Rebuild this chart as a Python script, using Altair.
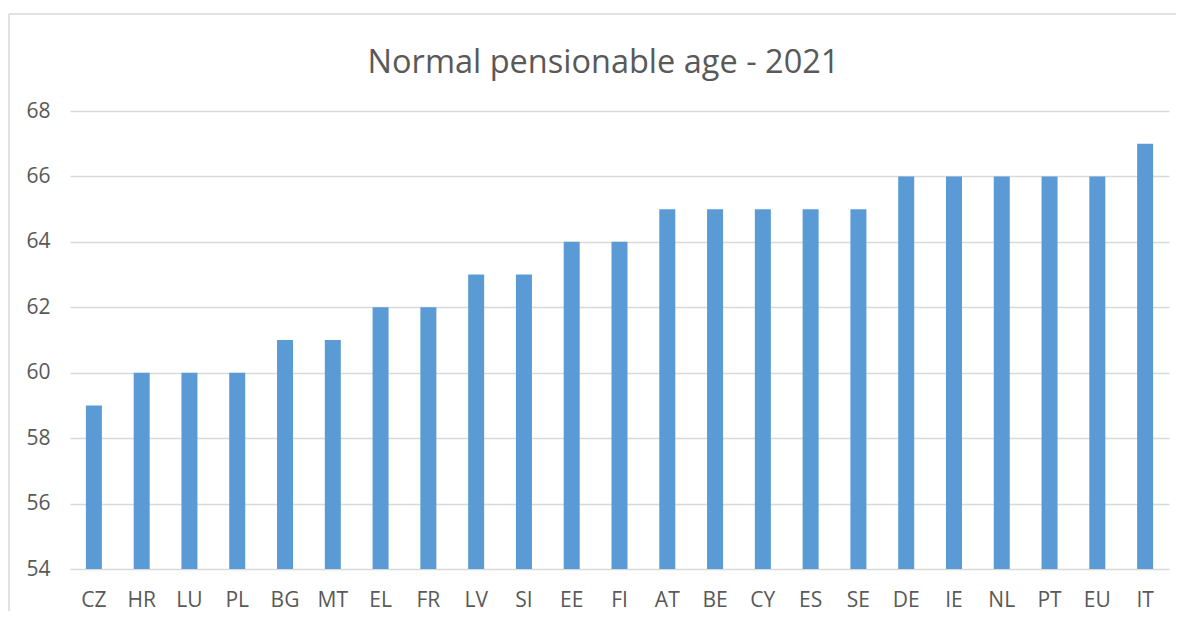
import altair as alt
import pandas as pd

countries = ["CZ", "HR", "LU", "PL", "BG", "MT", "EL", "FR", "LV", "SI", "EE", "FI",
             "AT", "BE", "CY", "ES", "SE", "DE", "IE", "NL", "PT", "EU", "IT"]
ages = [59, 60, 60, 60, 61, 61, 62, 62, 63, 63, 64, 64,
        65, 65, 65, 65, 65, 66, 66, 66, 66, 66, 67]
y_ticks = [54, 56, 58, 60, 62, 64, 66, 68]

df = pd.DataFrame({"country": countries, "age": ages})

FONT = "Open Sans"
GRAY = "#595959"
FRAME = "#D9D9D9"

bars = alt.Chart(df).mark_bar(color="#5B9BD5", clip=True).encode(
    x=alt.X("country:N", sort=countries,
            scale=alt.Scale(paddingInner=0.665, paddingOuter=0.3325),
            axis=alt.Axis(title=None, labelAngle=0, ticks=False, domain=False,
                          labelPadding=20, labelFontSize=21, labelColor=GRAY,
                          labelFont=FONT, grid=False)),
    y=alt.Y("age:Q", scale=alt.Scale(domain=[54, 68], nice=False, zero=False),
            axis=alt.Axis(title=None, values=y_ticks, ticks=False, domain=False,
                          labelPadding=20, labelFontSize=21, labelColor=GRAY,
                          labelFont=FONT, grid=True, gridColor="#D9D9D9",
                          gridWidth=1.3)),
)

frame_top = alt.Chart(alt.Data(values=[{}])).mark_rule(
    stroke=FRAME, strokeWidth=1.5, clip=False
).encode(x=alt.value(-61), x2=alt.value(1200),
         y=alt.value(-97), y2=alt.value(-97))

frame_left = alt.Chart(alt.Data(values=[{}])).mark_rule(
    stroke=FRAME, strokeWidth=1.5, clip=False
).encode(x=alt.value(-61), x2=alt.value(-61),
         y=alt.value(-97), y2=alt.value(600))

chart = alt.layer(frame_top, frame_left, bars).properties(
    width=1099,
    height=458,
    title=alt.TitleParams("Normal pensionable age - 2021", font=FONT, fontSize=32.5,
                          fontWeight="normal", color=GRAY, anchor="middle",
                          offset=-66, dx=-16),
    autosize=alt.AutoSizeParams(type="none"),
    padding={"left": 62, "right": 7, "top": 103, "bottom": 42},
).configure_view(stroke=None)

chart.save("out.html", embed_options={"renderer": "svg", "actions": False})
